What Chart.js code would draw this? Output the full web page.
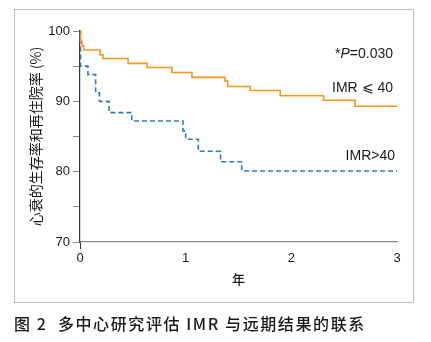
<!DOCTYPE html>
<html>
<head>
<meta charset="utf-8">
<script src="https://cdn.jsdelivr.net/npm/chart.js@4"></script>
<style>
  html, body { margin: 0; padding: 0; background: #fff; }
  #wrap { position: relative; width: 431px; height: 342px; }
  #frame { position: absolute; left: 14px; top: 9px; width: 398px; height: 292px; border: 1px solid #bdbdbd; }
  #caption { position: absolute; left: 14px; top: 311px; font: 500 16px "Noto Sans CJK SC", sans-serif; color: #1a1a1a; white-space: pre; letter-spacing: 1.6px; }
  canvas { position: absolute; left: 0; top: 0; }
</style>
</head>
<body>
<div id="wrap">
  <div id="frame"></div>
  <canvas id="kmChart" width="431" height="342"></canvas>
  <div id="caption">图 2&nbsp;&nbsp;多中心研究评估 IMR 与远期结果的联系</div>
</div>
<script>
// Kaplan-Meier style curves, years vs %
const lowImrYears = [0, 0.005, 0.02, 0.035, 0.19, 0.217, 0.455, 0.635, 0.87, 1.06, 1.372, 1.398, 1.61, 1.895, 2.306, 2.604, 3.0];
const lowImrPct = [100, 98.5, 97.9, 97.3, 96.6, 96.1, 95.4, 94.8, 94.1, 93.4, 92.9, 92.1, 91.55, 90.8, 90.15, 89.3, 89.3];
const highImrYears = [0, 0.005, 0.075, 0.148, 0.185, 0.275, 0.49, 0.975, 1.0, 1.12, 1.33, 1.53, 3.0];
const highImrPct = [100, 95.0, 93.8, 91.2, 90.0, 88.4, 87.2, 85.8, 84.6, 82.9, 81.4, 80.1, 80.1];
const xTicks = [0, 1, 2, 3];
const yLabelTicks = [70, 80, 90, 100];

const orange = 'rgb(245, 150, 30)';
const blue = 'rgb(47, 123, 196)';
const textColor = '#1a1a1a';

function toPoints(xs, ys) {
    return xs.map((x, i) => ({ x: x, y: ys[i] }));
}

const labelsPlugin = {
    id: 'curveLabels',
    afterDatasetsDraw(chart) {
        const ctx = chart.ctx;
        const right = chart.chartArea.right - 4;
        const y = chart.scales.y;
        ctx.save();
        ctx.fillStyle = textColor;
        ctx.textBaseline = 'middle';
        ctx.textAlign = 'left';
        // *P=0.030 with italic P
        const normal = '14px "Liberation Sans", Arial, sans-serif';
        const italic = 'italic 14px "Liberation Sans", Arial, sans-serif';
        ctx.font = normal;
        const w1 = ctx.measureText('*').width;
        const w3 = ctx.measureText('=0.030').width;
        ctx.font = italic;
        const w2 = ctx.measureText('P').width;
        let px = right - (w1 + w2 + w3);
        const py = y.getPixelForValue(96.7);
        ctx.font = normal;
        ctx.fillText('*', px, py);
        ctx.font = italic;
        ctx.fillText('P', px + w1, py);
        ctx.font = normal;
        ctx.fillText('=0.030', px + w1 + w2, py);

        ctx.textAlign = 'right';
        ctx.fillText('IMR \u2A7D 40', right, y.getPixelForValue(91.9));
        ctx.fillText('IMR>40', right + 2, y.getPixelForValue(82.2));
        ctx.restore();
    }
};

new Chart('kmChart', {
    type: 'line',
    data: {
        datasets: [
            {
                label: 'IMR<=40',
                data: toPoints(lowImrYears, lowImrPct),
                borderColor: orange,
                borderWidth: 1.6,
                stepped: 'before',
                pointRadius: 0,
                fill: false,
                clip: 4
            },
            {
                label: 'IMR>40',
                data: toPoints(highImrYears, highImrPct),
                borderColor: blue,
                borderWidth: 1.6,
                borderDash: [5, 3],
                stepped: 'before',
                pointRadius: 0,
                fill: false,
                clip: 4
            }
        ]
    },
    options: {
        animation: false,
        responsive: false,
        layout: {
            padding: { left: 27, top: 31, right: 34, bottom: 52 }
        },
        plugins: {
            legend: { display: false },
            tooltip: { enabled: false }
        },
        scales: {
            x: {
                type: 'linear',
                min: 0,
                max: 3,
                afterFit: (scale) => { scale.height = 48; },
                afterBuildTicks: (scale) => { scale.ticks = xTicks.map(v => ({ value: v })); },
                border: { color: '#8a8a8a', width: 1.2 },
                grid: {
                    drawOnChartArea: false,
                    tickLength: 7,
                    color: (c) => (c.tick && c.tick.value === 0 ? '#333' : 'rgba(0,0,0,0)')
                },
                ticks: {
                    padding: 2,
                    color: textColor,
                    font: { family: '"Liberation Sans", Arial, sans-serif', size: 13 }
                },
                title: {
                    display: true,
                    text: '年',
                    color: textColor,
                    padding: { top: 0, bottom: 3 },
                    font: { family: '"Noto Sans CJK SC", sans-serif', size: 13, weight: '500' }
                }
            },
            y: {
                min: 70,
                max: 100,
                afterFit: (scale) => { scale.width = 53; },
                border: { color: '#333', width: 1.2 },
                grid: {
                    drawOnChartArea: false,
                    tickLength: 7,
                    color: '#8a8a8a'
                },
                ticks: {
                    stepSize: 5,
                    padding: 3,
                    color: textColor,
                    font: { family: '"Liberation Sans", Arial, sans-serif', size: 13 },
                    callback: (v) => (yLabelTicks.includes(v) ? String(v) : '')
                },
                title: {
                    display: true,
                    text: '心衰的生存率和再住院率 (%)',
                    color: textColor,
                    padding: { top: 0, bottom: 0 },
                    font: { family: '"Noto Sans CJK SC", sans-serif', size: 14 }
                }
            }
        }
    },
    plugins: [labelsPlugin]
});
</script>
</body>
</html>
